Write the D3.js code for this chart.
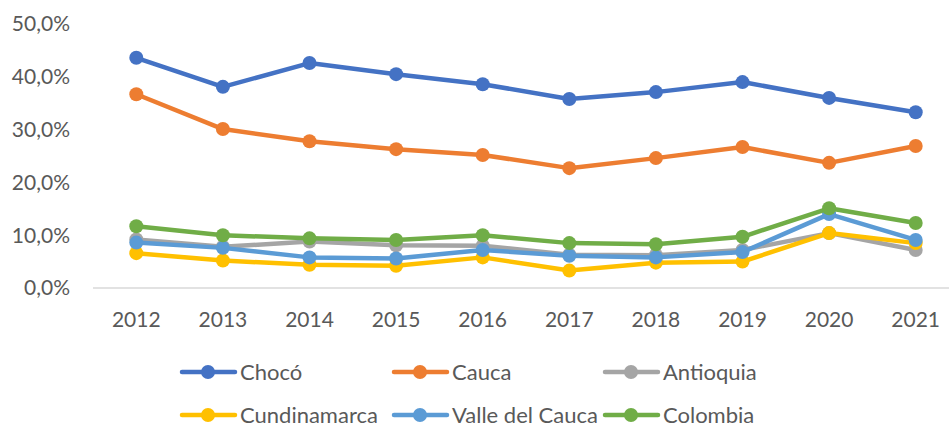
<!DOCTYPE html>
<html><head><meta charset="utf-8">
<script src="https://cdn.jsdelivr.net/npm/d3@7"></script>
<style>body{margin:0;background:#fff}svg{display:block}text{font-family:Lato,"Open Sans",sans-serif;fill:#595959}</style>
</head><body><svg id="c" width="949" height="425"></svg>
<script>
const years = ["2012","2013","2014","2015","2016","2017","2018","2019","2020","2021"];
const choco = [43.6,38.1,42.6,40.5,38.6,35.8,37.1,39.0,36.0,33.3];
const cauca = [36.7,30.1,27.8,26.3,25.2,22.7,24.6,26.7,23.7,26.9];
const antioquia = [9.2,7.8,8.8,8.1,8.0,6.3,6.2,7.2,10.4,7.2];
const cundinamarca = [6.6,5.2,4.4,4.2,5.8,3.3,4.8,5.0,10.4,8.5];
const valle = [8.6,7.6,5.8,5.6,7.2,6.1,5.8,6.8,14.0,9.1];
const colombia = [11.7,10.0,9.4,9.1,10.0,8.5,8.3,9.7,15.1,12.3];
const yTicks = [0,10,20,30,40,50];
const seriesNames = ["Chocó","Cauca","Antioquia","Cundinamarca","Valle del Cauca","Colombia"];
const seriesValues = [choco,cauca,antioquia,cundinamarca,valle,colombia];
const colors = ["#4472C4","#ED7D31","#A5A5A5","#FFC000","#5B9BD5","#70AD47"];

const svg = d3.select("#c");
const x = d3.scaleBand().domain(years).range([93,959]);
const y = d3.scaleLinear().domain([0,50]).range([288,24]);
const cx = d => x(d) + x.bandwidth()/2;

svg.append("line").attr("x1",93).attr("x2",949).attr("y1",y(0)).attr("y2",y(0))
  .attr("stroke","#D9D9D9").attr("stroke-width",1.5);

const fmt = v => d3.format(".1f")(v).replace(".",",") + "%";
svg.selectAll(".yt").data(yTicks).join("text").attr("class","yt")
  .attr("x",70).attr("y",d=>y(d)).attr("dy","0.35em").attr("text-anchor","end")
  .style("font-size","21px").text(fmt);
svg.selectAll(".xt").data(years).join("text").attr("class","xt")
  .attr("x",d=>cx(d)).attr("y",327).attr("text-anchor","middle")
  .style("font-size","21px").text(d=>d);

const line = d3.line().x((d,i)=>cx(years[i])).y(d=>y(d));
seriesValues.forEach((vals,k)=>{
  const g = svg.append("g");
  g.append("path").datum(vals).attr("d",line).attr("fill","none")
    .attr("stroke",colors[k]).attr("stroke-width",4.5).attr("stroke-linejoin","round");
  g.selectAll("circle").data(vals).join("circle")
    .attr("cx",(d,i)=>cx(years[i])).attr("cy",d=>y(d)).attr("r",7).attr("fill",colors[k]);
});

const legendPos = [[180,372],[392,372],[603,372],[180,415],[392,415],[603,415]];
seriesNames.forEach((n,k)=>{
  const [lx,ly] = legendPos[k];
  const g = svg.append("g");
  g.append("line").attr("x1",lx+2).attr("x2",lx+55).attr("y1",ly).attr("y2",ly)
    .attr("stroke",colors[k]).attr("stroke-width",4.5).attr("stroke-linecap","round");
  g.append("circle").attr("cx",lx+28).attr("cy",ly).attr("r",7).attr("fill",colors[k]);
  g.append("text").attr("x",lx+60).attr("y",ly).attr("dy","0.35em")
    .style("font-size","22px").text(n);
});
</script></body></html>
